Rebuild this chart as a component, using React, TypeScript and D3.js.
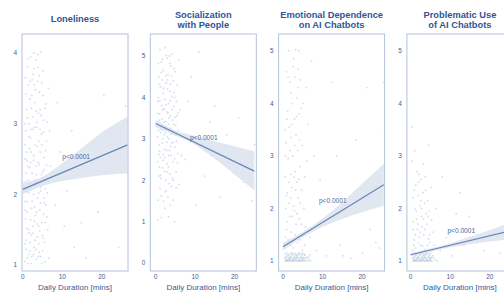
import React from "react";
import * as d3 from "d3";

// chart values
const titles = [
  ["Loneliness"],
  ["Socialization", "with People"],
  ["Emotional Dependence", "on AI Chatbots"],
  ["Problematic Use", "of AI Chatbots"],
];
const xTicks = [0, 10, 20];
const yTicks = [
  [1, 2, 3, 4],
  [0, 1, 2, 3, 4, 5],
  [1, 2, 3, 4, 5],
  [1, 2, 3, 4, 5],
];
const yDomains = [
  [0.915, 4.27],
  [-0.19, 5.53],
  [0.81, 5.32],
  [0.81, 5.32],
];
const xDomains = [
  [-0.18, 26.6],
  [-1.35, 25.5],
  [-1.1, 25.7],
  [-0.95, 25.85],
];
const pLabel = "p<0.0001";
const pLabelX = [13.5, 12.2, 12.6, 12.8];
const pLabelY = [2.5, 2.97, 2.1, 1.53];

// fitted line and confidence band
const fitEndX = [26.5, 25, 25.5, 26];
const fitStart = [2.07, 3.37, 1.27, 1.12];
const fitEnd = [2.7, 2.22, 2.45, 1.59];
const ciLow = [
  [2.0, 2.12, 2.19, 2.23, 2.27, 2.3],
  [3.28, 3.08, 2.86, 2.52, 2.14, 1.75],
  [1.2, 1.45, 1.65, 1.8, 1.93, 2.05],
  [1.09, 1.18, 1.26, 1.32, 1.37, 1.42],
];
const ciHigh = [
  [2.16, 2.25, 2.44, 2.66, 2.88, 3.1],
  [3.46, 3.2, 3.07, 2.94, 2.82, 2.7],
  [1.34, 1.55, 1.81, 2.12, 2.47, 2.85],
  [1.15, 1.24, 1.34, 1.46, 1.59, 1.76],
];

const lonelinessPts = [
  [0.6,1.05],[1.2,1.1],[2.1,1.02],[3.4,1.08],[4.5,1.12],[5.6,1.04],[1.8,1.2],[2.9,1.25],[4.1,1.3],[0.9,1.35],
  [3.6,1.4],[5.2,1.38],[1.5,1.5],[2.6,1.55],[4.8,1.6],[0.7,1.65],[3.2,1.7],[6.1,1.68],[2.2,1.8],[4.3,1.78],
  [1.1,1.9],[3.8,1.95],[5.5,1.88],[2.7,2.0],[0.8,2.05],[4.6,2.1],[1.9,2.15],[3.3,2.2],[6.4,2.18],[2.4,2.3],
  [5.0,2.32],[1.3,2.4],[3.9,2.45],[0.6,2.5],[2.8,2.55],[4.4,2.6],[1.7,2.65],[5.8,2.62],[3.1,2.7],[2.0,2.8],
  [4.7,2.85],[0.9,2.9],[3.5,2.95],[1.6,3.0],[5.3,3.05],[2.5,3.1],[4.0,3.15],[1.0,3.2],[3.0,3.3],[5.9,3.28],
  [2.3,3.4],[4.2,3.45],[1.4,3.55],[3.7,3.6],[2.6,3.7],[5.1,3.75],[1.2,3.8],[3.3,3.9],[2.0,3.95],[4.6,4.02],
  [2.8,4.0],[6.5,3.5],[6.8,2.9],[6.3,1.5],[7.0,2.4],[0.5,1.3],[0.5,3.0],[1.5,1.15],[2.5,1.45],[3.5,1.75],
  [4.5,2.05],[5.5,2.35],[1.0,2.6],[2.0,2.45],[3.0,2.95],[4.0,1.55],[5.0,1.2],[6.0,2.75],[1.4,2.2],[2.4,1.9],
  [3.4,2.4],[4.4,3.2],[5.4,1.95],[0.7,3.65],[1.8,3.35],[2.9,3.55],[3.9,3.8],[4.9,2.7],[1.1,1.75],[2.1,2.6],
  [3.1,1.35],[4.1,2.75],[5.1,3.4],[0.8,2.3],[1.6,1.45],[2.7,1.15],[3.7,2.15],[4.8,1.02],[5.7,1.6],[6.6,1.1],
  [0.5,1.9],[1.3,1.02],[2.3,1.12],[3.3,1.22],[4.3,1.48],[5.3,1.72],[6.2,2.02],[0.6,2.7],[1.6,2.82],[2.6,2.92],
  [3.6,3.02],[4.6,3.12],[5.6,3.22],[0.8,3.42],[1.8,3.6],[2.8,3.78],[3.8,3.98],[4.8,3.58],[1.0,1.52],[2.0,1.64],
  [3.0,1.82],[4.0,2.02],[5.0,2.22],[6.0,2.42],[0.7,2.18],[1.7,2.38],[2.7,2.48],[3.7,2.68],[4.7,2.28],[5.7,2.08],
  [1.2,3.08],[2.2,3.22],[3.2,3.48],[4.2,3.68],[5.2,2.88],[0.9,1.22],[1.9,1.32],[2.9,1.62],[3.9,1.12],[4.9,1.42],
  [1.4,3.92],[2.4,3.62],[3.4,3.18],[4.4,2.92],[5.4,2.52],[1.5,2.02],[2.5,2.12],[3.5,2.28],[4.5,1.88],[5.5,1.32],
  [1.1,2.48],[2.1,2.92],[3.1,2.18],[4.1,2.42],[6.1,3.02],[0.6,1.78],[2.2,1.42],[3.6,1.58],[4.2,1.18],[5.8,1.85],
  [8.2,1.85],[8.8,3.3],[9.5,2.6],[10.5,1.55],[11.2,2.05],[12.4,2.9],[13.0,1.25],[14.8,1.6],[17.5,2.45],[19.0,1.75],
  [22.0,2.85],[24.2,1.25],[26.0,3.25],[25.5,2.45],[16.0,1.1],[20.5,3.4],
];

const socializationPts = [
  [0.6,1.05],[1.5,1.1],[4.8,1.0],[2.0,1.5],[3.1,1.6],[1.1,1.8],[4.0,1.85],[2.6,2.0],[0.8,2.1],[3.6,2.15],
  [5.2,2.2],[1.7,2.3],[2.9,2.4],[4.4,2.45],[1.2,2.55],[3.3,2.6],[5.6,2.65],[2.2,2.75],[0.9,2.85],[4.1,2.9],
  [1.8,3.0],[3.0,3.05],[5.0,3.1],[2.5,3.15],[0.7,3.2],[3.8,3.25],[1.4,3.3],[4.6,3.35],[2.1,3.4],[3.4,3.5],
  [5.4,3.55],[1.0,3.6],[2.8,3.65],[4.2,3.7],[1.6,3.8],[3.2,3.85],[0.6,3.9],[2.4,3.95],[4.8,4.0],[1.9,4.1],
  [3.6,4.15],[1.2,4.25],[2.7,4.35],[4.4,4.4],[0.8,4.5],[3.1,4.55],[2.0,4.65],[3.9,4.75],[1.5,4.85],[2.9,4.95],
  [4.2,5.05],[1.1,5.15],[2.4,5.2],[3.5,5.0],[5.5,4.3],[6.2,3.7],[6.5,2.6],[5.9,1.9],[0.5,2.45],[1.3,2.05],
  [2.3,2.55],[3.3,3.0],[4.3,3.45],[5.3,3.9],[0.9,3.45],[1.9,3.7],[2.9,2.2],[3.9,2.6],[4.9,2.8],[1.4,4.6],
  [2.6,3.3],[3.7,3.55],[4.7,4.7],[5.7,3.2],[0.7,4.0],[1.7,2.9],[2.7,1.75],[3.7,1.4],[4.5,2.0],[2.2,3.1],
  [3.0,4.2],[1.0,2.7],
  [0.5,3.05],[1.3,3.15],[2.3,3.25],[3.3,3.35],[4.3,3.12],[5.3,2.95],[0.6,3.62],[1.6,3.48],[2.6,3.82],[3.6,3.92],
  [4.6,3.78],[5.6,3.62],[0.8,2.62],[1.8,2.48],[2.8,2.72],[3.8,2.82],[4.8,2.52],[1.0,4.32],[2.0,4.22],[3.0,4.42],
  [4.0,4.52],[5.0,4.62],[1.2,2.12],[2.2,2.22],[3.2,2.32],[4.2,2.05],[5.2,1.82],[0.7,4.82],[1.7,4.92],[2.7,5.02],
  [3.7,4.32],[4.7,4.12],[1.4,1.62],[2.4,1.72],[3.4,1.92],[4.4,1.52],[1.1,3.92],[2.1,3.72],[3.1,3.62],[4.1,4.02],
  [5.1,3.32],[0.9,2.32],[1.9,2.62],[2.9,2.92],[3.9,3.12],[4.9,3.52],[1.5,3.22],[2.5,3.42],[3.5,2.72],[4.5,2.92],
  [5.5,2.42],[1.6,4.42],[2.6,4.52],[3.6,4.82],[0.6,1.52],[2.3,1.32],[3.3,1.12],[5.8,4.9],
  [7.5,2.5],[8.3,3.9],[9.0,4.5],[10.2,1.4],[11.0,5.1],[12.5,2.1],[13.8,3.4],[15.0,3.8],[16.2,1.6],[18.0,3.1],
  [19.5,2.4],[21.0,3.5],[22.3,1.95],[24.5,1.5],[25.0,2.85],[14.0,2.6],
];

const dependencePts = [
  [0.6,1.0],[1.0,1.02],[1.4,1.0],[1.8,1.05],[2.2,1.0],[2.6,1.03],[3.0,1.0],[3.4,1.06],[3.8,1.0],[4.2,1.02],
  [4.6,1.0],[5.0,1.04],[5.4,1.0],[5.8,1.06],[6.2,1.0],[0.8,1.08],[1.2,1.1],[1.6,1.07],[2.0,1.09],[2.4,1.12],
  [2.8,1.08],[3.2,1.1],[3.6,1.09],[4.0,1.12],[4.4,1.08],[4.8,1.1],[5.2,1.07],[5.6,1.11],[0.7,1.04],[1.1,1.0],
  [1.5,1.03],[1.9,1.0],[2.3,1.05],[2.7,1.0],[3.1,1.04],[3.5,1.0],[3.9,1.05],[4.3,1.0],[4.7,1.05],[5.1,1.0],
  [6.6,1.03],[7.0,1.0],
  [0.5,1.06],[0.9,1.01],[1.3,1.06],[1.7,1.02],[2.1,1.06],[2.5,1.01],[2.9,1.06],[3.3,1.02],[3.7,1.06],[4.1,1.01],
  [4.5,1.06],[4.9,1.02],[5.3,1.06],[5.7,1.02],[6.1,1.06],[0.6,1.13],[1.0,1.15],[1.4,1.12],[1.8,1.14],[2.2,1.16],
  [2.6,1.13],[3.0,1.15],[3.4,1.12],[3.8,1.14],[4.2,1.16],[4.6,1.13],[5.0,1.15],[5.4,1.13],[6.4,1.08],[6.9,1.12],
  [0.5,1.3],[1.3,1.4],[2.5,1.25],[3.7,1.35],[4.9,1.2],[0.9,1.6],[2.1,1.55],[3.3,1.7],[4.5,1.5],[5.7,1.65],
  [1.7,1.85],[2.9,1.95],[4.1,1.8],[0.7,2.0],[1.5,2.1],[2.7,2.05],[3.9,2.2],[5.3,2.0],[1.1,2.3],[2.3,2.4],
  [3.5,2.5],[4.7,2.35],[0.6,2.6],[1.9,2.65],[3.1,2.7],[4.3,2.8],[1.3,2.95],[2.5,3.0],[3.7,3.1],[4.9,3.2],
  [0.8,3.25],[2.1,3.35],[3.3,3.4],[1.6,3.55],[2.9,3.7],[4.1,3.8],[0.5,3.5],[1.2,3.85],[2.4,4.0],[3.6,4.1],
  [5.1,4.0],[1.8,4.4],[3.0,4.5],[4.4,4.45],[0.9,4.6],[2.6,4.7],[3.8,4.65],[1.4,5.0],[3.2,5.02],[4.0,5.0],
  [6.0,2.9],[6.4,3.6],[6.8,1.45],[5.9,4.3],[5.5,2.6],
  [0.7,1.45],[1.9,1.3],[3.1,1.5],[4.3,1.4],[5.5,1.3],[1.1,1.75],[2.3,1.85],[3.5,1.9],[4.7,1.7],[0.9,2.25],
  [2.0,2.2],[3.2,2.35],[4.4,2.1],[1.5,2.5],[2.8,2.6],[4.0,2.55],[0.6,3.0],[1.8,3.1],[3.0,3.2],[4.2,3.3],
  [1.0,3.7],[2.2,3.6],[3.4,3.75],[4.6,3.9],[2.0,4.2],[3.8,4.3],[1.3,4.5],[2.7,4.85],
  [7.2,4.8],[7.8,3.0],[8.5,1.2],[9.4,2.55],[10.2,1.75],[11.0,1.1],[12.5,4.4],[13.6,3.0],[14.5,1.3],[16.0,2.0],
  [17.2,1.05],[18.5,3.3],[20.1,1.15],[21.3,4.3],[22.0,1.6],[23.5,1.35],[24.4,1.25],[25.5,4.4],[25.7,3.5],[15.2,1.1],
];

const problematicPts = [
  [0.6,1.0],[1.0,1.02],[1.4,1.0],[1.8,1.05],[2.2,1.0],[2.6,1.03],[3.0,1.0],[3.4,1.06],[3.8,1.0],[4.2,1.02],
  [4.6,1.0],[5.0,1.04],[5.4,1.0],[5.8,1.06],[0.8,1.08],[1.2,1.1],[1.6,1.07],[2.0,1.09],[2.4,1.12],[2.8,1.08],
  [3.2,1.1],[3.6,1.09],[4.0,1.12],[4.4,1.08],[4.8,1.1],[5.2,1.07],[0.7,1.04],[1.1,1.0],[1.5,1.03],[1.9,1.0],
  [2.3,1.05],[2.7,1.0],[3.1,1.04],[3.5,1.0],[3.9,1.05],[4.3,1.0],[4.7,1.05],[5.1,1.0],[6.2,1.02],[6.8,1.0],
  [0.5,1.06],[0.9,1.01],[1.3,1.06],[1.7,1.02],[2.1,1.06],[2.5,1.01],[2.9,1.06],[3.3,1.02],[3.7,1.06],[4.1,1.01],
  [4.5,1.06],[4.9,1.02],[5.3,1.06],[0.6,1.13],[1.0,1.15],[1.4,1.12],[1.8,1.14],[2.2,1.16],[2.6,1.13],[3.0,1.15],
  [3.4,1.12],[3.8,1.14],[4.2,1.16],[4.6,1.13],[5.0,1.15],[5.6,1.1],
  [0.5,1.2],[1.3,1.25],[2.5,1.3],[3.7,1.22],[4.9,1.35],[0.9,1.4],[2.1,1.45],[3.3,1.5],[4.5,1.42],[5.7,1.55],
  [1.7,1.6],[2.9,1.65],[4.1,1.7],[0.7,1.75],[1.5,1.8],[2.7,1.85],[3.9,1.9],[5.3,1.78],[1.1,2.0],[2.3,2.05],
  [3.5,2.1],[4.7,1.95],[0.6,2.2],[1.9,2.25],[3.1,2.3],[4.3,2.15],[1.3,2.45],[2.5,2.55],[3.7,2.6],[2.1,2.65],
  [0.4,2.9],[1.0,3.1],[0.4,3.55],[4.5,3.2],[3.2,2.85],[5.2,2.4],[6.0,1.3],[6.5,2.0],
  [0.8,1.3],[1.9,1.35],[3.0,1.28],[4.2,1.3],[5.4,1.2],[1.2,1.5],[2.4,1.55],[3.6,1.6],[4.8,1.5],[0.6,1.6],
  [1.8,1.7],[3.2,1.8],[4.4,1.85],[1.4,1.95],[2.6,2.15],[3.8,2.35],[0.9,2.35],[2.0,2.5],[1.6,2.7],[2.8,2.0],
  [7.5,1.2],[8.0,2.6],[9.0,1.45],[10.5,1.1],[11.5,1.9],[12.4,2.3],[13.5,1.3],[14.8,1.85],[16.0,1.6],[18.5,1.2],
  [20.0,1.5],[22.5,1.15],
];

const allPoints = [lonelinessPts, socializationPts, dependencePts, problematicPts];

const W = 504;
const H = 292;
const panelW = 106;
const top = 34;
const bottom = 271;
const font = "'Liberation Sans', Arial, Helvetica, sans-serif";

const Panel = ({ i }: { i: number }) => {
  const left = 22 + i * 128.3;
  const x = d3.scaleLinear().domain(xDomains[i]).range([left, left + panelW]);
  const y = d3.scaleLinear().domain(yDomains[i]).range([bottom, top]);

  const end = fitEndX[i];
  const ciX = [0, 5, 10, 15, 20, end];
  const band = ciX.map((cx, k) => ({ cx, lo: ciLow[i][k], hi: ciHigh[i][k] }));
  const area = d3
    .area<any>()
    .x((d) => x(d.cx))
    .y0((d) => y(d.lo))
    .y1((d) => y(d.hi))
    .curve(d3.curveMonotoneX);
  const line = d3
    .line<any>()
    .x((d) => x(d[0]))
    .y((d) => y(d[1]));

  const cx = (left + left + panelW) / 2;
  const t = titles[i];

  return (
    <g>
      {t.map((s, k) => (
        <text
          key={k}
          x={cx}
          y={t.length === 1 ? 22 : 17.5 + k * 10.5}
          textAnchor="middle"
          fontSize={9.3}
          fontWeight="bold"
          fill="#2f5697"
        >
          {s}
        </text>
      ))}
      <g>
        {allPoints[i].map((p, k) => (
          <circle key={k} cx={x(p[0])} cy={y(p[1])} r={0.95} fill="#9aafd2" opacity={0.4} />
        ))}
      </g>
      <path d={area(band) || ""} fill="#d7dfeb" opacity={0.75} />
      <path
        d={line([[0, fitStart[i]], [end, fitEnd[i]]]) || ""}
        fill="none"
        stroke="#6586b8"
        strokeWidth={1.2}
      />
      <text x={x(pLabelX[i])} y={y(pLabelY[i])} textAnchor="middle" fontSize={6.6} fill="#4b6aa1">
        {pLabel}
      </text>
      <rect x={left} y={top} width={panelW} height={bottom - top} fill="none" stroke="#b3c2d9" strokeWidth={1} />
      {yTicks[i].map((v) => (
        <text key={v} x={left - 5} y={y(v) + 2.3} textAnchor="end" fontSize={6.5} fill="#3d5d96">
          {v}
        </text>
      ))}
      {xTicks.map((v) => (
        <text key={v} x={x(v)} y={279} textAnchor="middle" fontSize={6.5} fill="#3d5d96">
          {v}
        </text>
      ))}
      <text x={cx} y={290} textAnchor="middle" fontSize={8} fill="#3a5a98">
        Daily Duration [mins]
      </text>
    </g>
  );
};

export default function App() {
  return (
    <svg
      width={W}
      height={H}
      style={{ position: "absolute", left: 0, top: 0, background: "#fff" }}
      fontFamily={font}
    >
      {[0, 1, 2, 3].map((i) => (
        <Panel key={i} i={i} />
      ))}
    </svg>
  );
}
